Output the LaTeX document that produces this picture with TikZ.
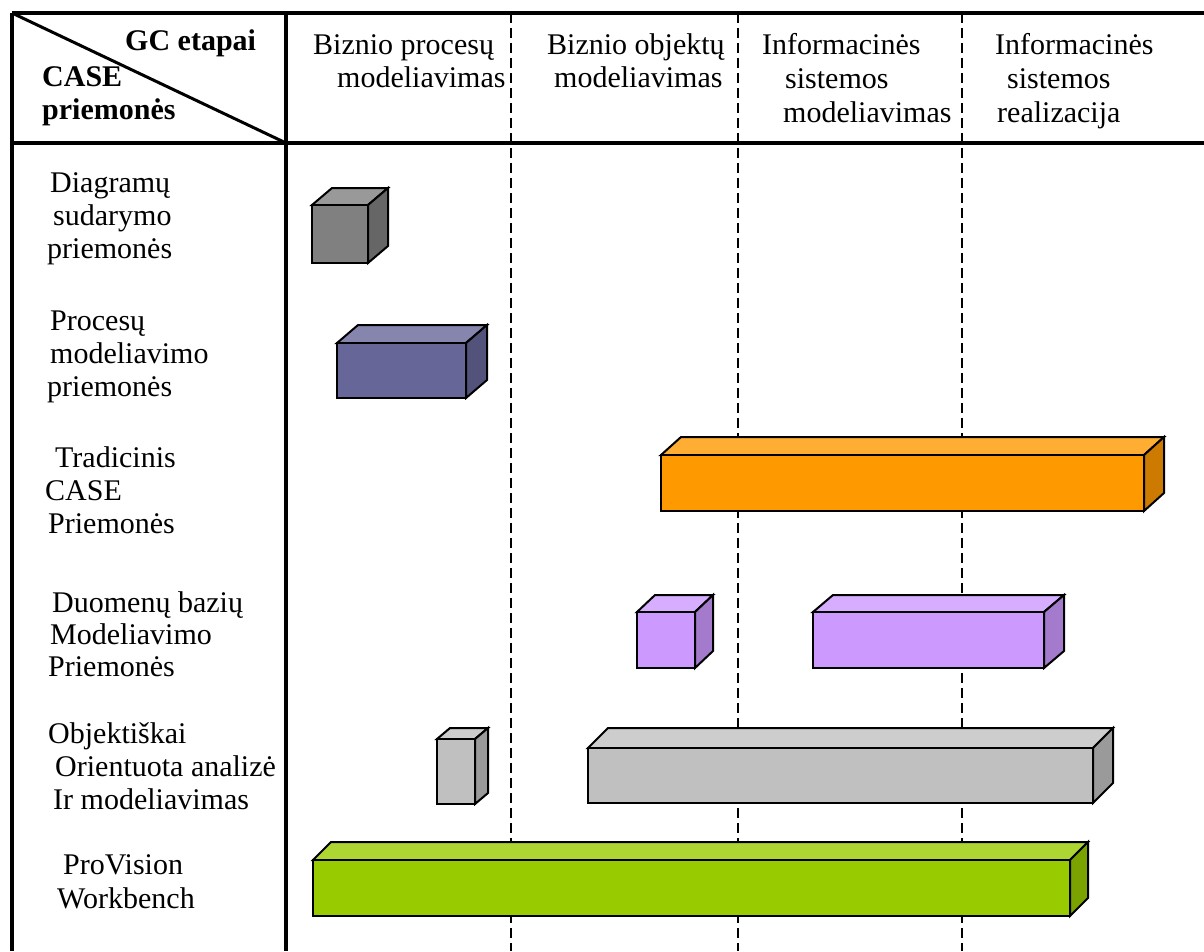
\documentclass[tikz,border=0pt]{standalone}
\usepackage{fontspec}
\setmainfont{Liberation Serif}
\newcommand{\cub}[9]{%
  \filldraw[boxline, fill=#8] (#1,#2) -- (#1+#5,#2-#6) -- (#3+#5,#2-#6) -- (#3,#2) -- cycle;
  \filldraw[boxline, fill=#9] (#3,#2) -- (#3+#5,#2-#6) -- (#3+#5,#4-#6) -- (#3,#4) -- cycle;
  \filldraw[boxline, fill=#7] (#1,#2) rectangle (#3,#4);
}
\definecolor{grF}{HTML}{808080}\definecolor{grT}{HTML}{999999}\definecolor{grS}{HTML}{666666}
\definecolor{blF}{HTML}{666699}\definecolor{blT}{HTML}{8585AD}\definecolor{blS}{HTML}{52527A}
\definecolor{orF}{HTML}{FF9900}\definecolor{orT}{HTML}{FFAD33}\definecolor{orS}{HTML}{CC7A00}
\definecolor{puF}{HTML}{CC99FF}\definecolor{puT}{HTML}{D6ADFF}\definecolor{puS}{HTML}{A37ACC}
\definecolor{lgF}{HTML}{C0C0C0}\definecolor{lgT}{HTML}{CDCDCD}\definecolor{lgS}{HTML}{9A9A9A}
\definecolor{gnF}{HTML}{99CC00}\definecolor{gnT}{HTML}{ADD633}\definecolor{gnS}{HTML}{7AA300}
\begin{document}
\begin{tikzpicture}[x=1pt,y=-1pt,
  boxline/.style={draw=black, line width=2pt, line join=miter},
  frame/.style={line width=3.5pt},
  sep/.style={line width=2.8pt, dash pattern=on 10pt off 5pt},
  lbl/.style={anchor=base west, inner sep=0pt, font=\fontsize{30}{33}\selectfont},
  hdb/.style={anchor=base west, inner sep=0pt, font=\fontsize{30}{33}\selectfont\bfseries}]
\useasboundingbox (0,0) rectangle (1204,951);
\fill[white] (0,0) rectangle (1204,951);
% frame coordinates
\coordinate (tl) at (12,13);
\coordinate (tr) at (1204,13);
\coordinate (bl) at (12,951);
\coordinate (vt) at (286,13);
\coordinate (vb) at (286,951);
\coordinate (hl) at (12,143);
\coordinate (hr) at (1204,143);
\coordinate (hm) at (286,143);
\coordinate (d1t) at (511,13);\coordinate (d1b) at (511,951);
\coordinate (d2t) at (738,13);\coordinate (d2b) at (738,951);
\coordinate (d3t) at (962,13);\coordinate (d3b) at (962,951);
% dashed separators
\draw[sep] (d1t) -- (d1b);
\draw[sep] (d2t) -- (d2b);
\draw[sep] (d3t) -- (d3b);
% frame
\draw[frame] (tl) -- (tr);
\draw[frame] (tl) -- (bl);
\draw[frame, line width=4pt] (vt) -- (vb);
\draw[frame] (hl) -- (hr);
\draw[line width=3pt] (tl) -- (hm);
% header texts
\node[hdb] (gc) at (125,50) {GC etapai};
\node[hdb] (case) at (42,86) {CASE};
\node[hdb] (prm) at (42,119) {priemonės};
\node[lbl] (c1a) at (313,54) {Biznio procesų};
\node[lbl] (c1b) at (337,87) {modeliavimas};
\node[lbl] (c2a) at (547,54) {Biznio objektų};
\node[lbl] (c2b) at (554,87) {modeliavimas};
\node[lbl] (c3a) at (762,54) {Informacinės};
\node[lbl] (c3b) at (785,88) {sistemos};
\node[lbl] (c3c) at (783,122) {modeliavimas};
\node[lbl] (c4a) at (995,54) {Informacinės};
\node[lbl] (c4b) at (1007,88) {sistemos};
\node[lbl] (c4c) at (997,122) {realizacija};
% row labels
\node[lbl] (r1a) at (50,192) {Diagramų};
\node[lbl] (r1b) at (53,225) {sudarymo};
\node[lbl] (r1c) at (47,258) {priemonės};
\node[lbl] (r2a) at (50,330) {Procesų};
\node[lbl] (r2b) at (50,363) {modeliavimo};
\node[lbl] (r2c) at (47,396) {priemonės};
\node[lbl] (r3a) at (55,467) {Tradicinis};
\node[lbl] (r3b) at (45,500) {CASE};
\node[lbl] (r3c) at (48,533) {Priemonės};
\node[lbl] (r4a) at (52,612) {Duomenų bazių};
\node[lbl] (r4b) at (50,644) {Modeliavimo};
\node[lbl] (r4c) at (48,676) {Priemonės};
\node[lbl] (r5a) at (48,743) {Objektiškai};
\node[lbl] (r5b) at (55,776) {Orientuota analizė};
\node[lbl] (r5c) at (53,809) {Ir modeliavimas};
\node[lbl] (r6a) at (63,874) {ProVision};
\node[lbl] (r6b) at (57,908) {Workbench};
% cuboids
\cub{312}{205}{368}{263}{20}{17}{grF}{grT}{grS}
\cub{337}{343}{466}{398}{21}{18}{blF}{blT}{blS}
\cub{661}{455}{1144}{511}{20}{18}{orF}{orT}{orS}
\cub{637}{612}{695}{668}{18}{17}{puF}{puT}{puS}
\cub{813}{612}{1044}{668}{20}{17}{puF}{puT}{puS}
\cub{437}{739}{475}{804}{13}{11}{lgF}{lgT}{lgS}
\cub{588}{748}{1093}{803}{20}{20}{lgF}{lgT}{lgS}
\cub{313}{860}{1070}{916}{18}{18}{gnF}{gnT}{gnS}
\end{tikzpicture}
\end{document}
